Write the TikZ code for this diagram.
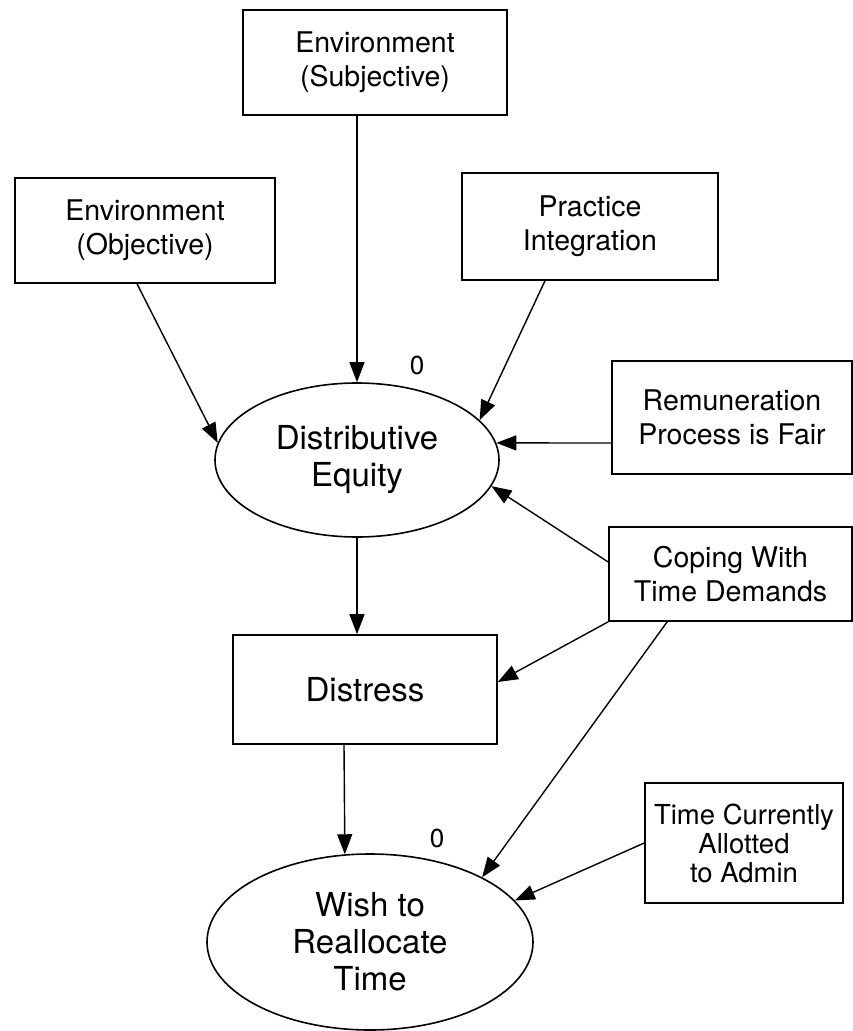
\documentclass[tikz,border=0pt]{standalone}
\usepackage{fontspec}
\setmainfont{TeX Gyre Heros}
\usetikzlibrary{arrows.meta,shapes.geometric,calc}
\begin{document}
\begin{tikzpicture}[x=1pt,y=-1pt,
  box/.style={draw,line width=1.6pt,rectangle,inner sep=0pt,align=center,
    font=\fontsize{28.5}{34}\selectfont},
  latent/.style={draw,line width=1.6pt,ellipse,inner sep=0pt,align=center,
    font=\fontsize{33}{37}\selectfont},
  arr/.style={line width=1.4pt,-{Triangle[length=20pt,width=15pt]}},
  lbl/.style={font=\fontsize{26}{26}\selectfont,inner sep=0pt}]
\useasboundingbox (0,0) rectangle (853,1031);

% observed variables
\node[box,minimum width=264pt,minimum height=105pt] (esub) at (375,62.5) {Environment\\(Subjective)};
\node[box,minimum width=260pt,minimum height=105pt] (eobj) at (145,230.5) {Environment\\(Objective)};
\node[box,minimum width=256pt,minimum height=107pt] (prac) at (590,226.5) {Practice\\Integration};
\node[box,minimum width=240pt,minimum height=113pt] (remu) at (732,417.5) {Remuneration\\Process is Fair};
\node[box,minimum width=243pt,minimum height=94pt] (cope) at (730.5,574) {Coping With\\Time Demands};
\node[box,minimum width=264pt,minimum height=109pt,font=\fontsize{33}{37}\selectfont] (dist) at (365,689.5) {Distress};
\node[box,minimum width=198pt,minimum height=120pt,font=\fontsize{27.5}{29}\selectfont] (time) at (744,843) {Time Currently\\Allotted\\to Admin};

% latent variables
\node[latent,minimum width=284pt,minimum height=154pt] (de) at (357,460) {Distributive\\Equity};
\node[latent,minimum width=326pt,minimum height=176pt] (wish) at (370,942) {Wish to\\Reallocate\\Time};

% disturbance labels
\node[lbl] (zde) at (417,365) {0};
\node[lbl] (zwish) at (437,838) {0};

% paths
\draw[arr] (esub.south -| de.north) -- (de.north);
\draw[arr] ($(eobj.south)+(-8,0)$) -- (de.173.8);
\draw[arr] ($(prac.south)+(-45,0)$) -- (de.18.4);
\draw[arr] ($(remu.west)+(0,25.5)$) -- (de.7.4);
\draw[arr] ($(cope.west)+(0,-12)$) -- (de.-11.7);
\draw[arr] (de.south) -- (de.south |- dist.north);
\draw[arr] (cope.south west) -- ($(dist.east)+(0,-7.5)$);
\draw[arr] ($(dist.south)+(-21,0)$) -- (wish.106.6);
\draw[arr] ($(cope.south west)+(59,0)$) -- (wish.30.6);
\draw[arr] (time.west) -- (wish.16.8);
\end{tikzpicture}
\end{document}
